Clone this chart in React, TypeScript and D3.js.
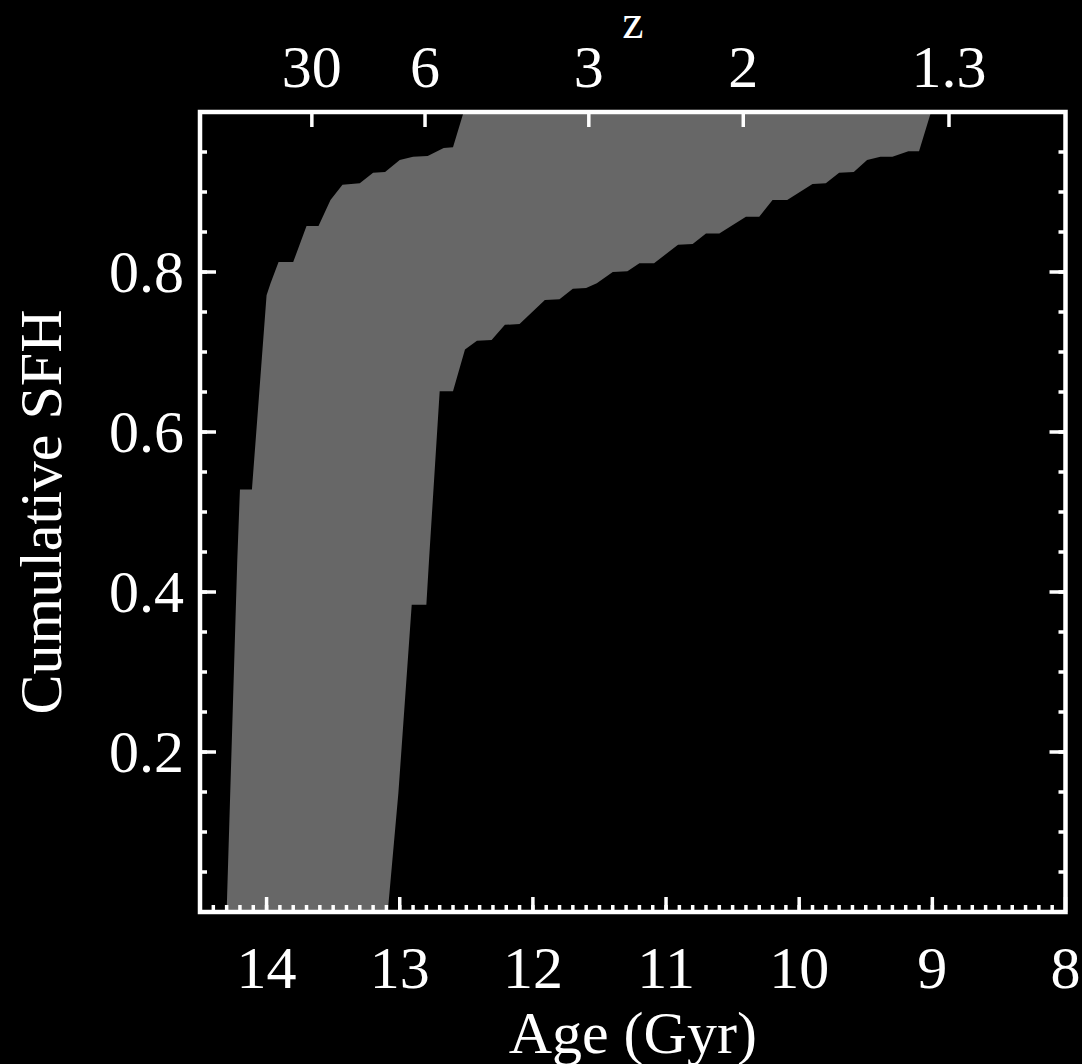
import React from 'react';
import * as d3 from 'd3';

// older edge of the band (age in Gyr, cumulative SFH), from bottom to top
const upperEdge: [number, number][] = [
  [14.3, 0], [14.22, 0.44], [14.2, 0.528], [14.11, 0.528], [14.0, 0.771],
  [13.97, 0.786], [13.91, 0.8125], [13.8, 0.8125], [13.7, 0.8575], [13.61, 0.8575],
  [13.52, 0.89], [13.43, 0.909], [13.3, 0.911], [13.2, 0.924], [13.11, 0.925],
  [13.0, 0.94], [12.9, 0.944], [12.79, 0.945], [12.67, 0.955], [12.6, 0.956],
  [12.52, 1.0],
];

// younger edge of the band, from bottom to top
const lowerEdge: [number, number][] = [
  [13.09, 0], [13.01, 0.149], [12.91, 0.384], [12.8, 0.384], [12.78, 0.44],
  [12.7, 0.651], [12.6, 0.651], [12.51, 0.703], [12.42, 0.714], [12.31, 0.715],
  [12.21, 0.734], [12.1, 0.735], [11.91, 0.765], [11.8, 0.766], [11.7, 0.779],
  [11.6, 0.78], [11.52, 0.786], [11.4, 0.8], [11.29, 0.801], [11.2, 0.811],
  [11.09, 0.811], [10.91, 0.834], [10.8, 0.835], [10.7, 0.848], [10.6, 0.848],
  [10.4, 0.869], [10.3, 0.869], [10.2, 0.89], [10.09, 0.89], [9.9, 0.91],
  [9.8, 0.911], [9.7, 0.924], [9.59, 0.925], [9.49, 0.94], [9.39, 0.944],
  [9.3, 0.944], [9.18, 0.951], [9.1, 0.951], [9.01, 1.0],
];

const ageTicks = [14, 13, 12, 11, 10, 9, 8];
const sfhTicks = [0.2, 0.4, 0.6, 0.8];
const zLabels = ['30', '6', '3', '2', '1.3'];
const zAges = [13.66, 12.81, 11.58, 10.42, 8.875];

const W = 1082;
const H = 1064;
const FONT = '"Liberation Serif", "Times New Roman", serif';

const App = () => {
  const x = d3.scaleLinear().domain([14.5, 8]).range([200, 1065.5]);
  const y = d3.scaleLinear().domain([0, 1]).range([912, 112]);

  const line = d3.line<[number, number]>()
    .x(d => x(d[0]))
    .y(d => y(d[1]));
  const band = line([...upperEdge, ...lowerEdge.slice().reverse()]) + 'Z';

  // minor ticks every 0.1 Gyr and every 0.05 in SFH
  const ageMinor = d3.range(81, 145).map(v => v / 10);
  const sfhMinor = d3.range(1, 20).map(v => v / 20);

  const x0 = x(14.5), x1 = x(8), y0 = y(0), y1 = y(1);

  return (
    <>
      <style>{`body{margin:0;background:#000;}`}</style>
      <svg width={W} height={H} style={{ display: 'block', background: '#000' }}>
        <path d={band} fill="#676767" />

        <g stroke="#fff" strokeWidth={3.5}>
          {/* bottom axis */}
          {ageMinor.map(v => (
            <line key={'am' + v} x1={x(v)} x2={x(v)} y1={y0} y2={y0 - 7} />
          ))}
          {ageTicks.map(v => (
            <line key={'aM' + v} x1={x(v)} x2={x(v)} y1={y0} y2={y0 - 15} />
          ))}
          {/* left and right axes */}
          {sfhMinor.map(v => (
            <g key={'sm' + v}>
              <line x1={x0} x2={x0 + 7} y1={y(v)} y2={y(v)} />
              <line x1={x1} x2={x1 - 7} y1={y(v)} y2={y(v)} />
            </g>
          ))}
          {sfhTicks.map(v => (
            <g key={'sM' + v}>
              <line x1={x0} x2={x0 + 16} y1={y(v)} y2={y(v)} />
              <line x1={x1} x2={x1 - 16} y1={y(v)} y2={y(v)} />
            </g>
          ))}
          {/* top redshift axis */}
          {zAges.map(v => (
            <line key={'z' + v} x1={x(v)} x2={x(v)} y1={y1} y2={y1 + 15} />
          ))}
          <rect x={x0} y={y1} width={x1 - x0} height={y0 - y1} fill="none" strokeWidth={4.5} />
        </g>

        <g fill="#fff" fontFamily={FONT} fontSize={60}>
          {ageTicks.map(v => (
            <text key={'at' + v} x={x(v)} y={988} textAnchor="middle">{v}</text>
          ))}
          {sfhTicks.map(v => (
            <text key={'st' + v} x={184} y={y(v) + 20} textAnchor="end">{v.toFixed(1)}</text>
          ))}
          {zLabels.map((l, i) => (
            <text key={'zt' + l} x={x(zAges[i])} y={87} textAnchor="middle">{l}</text>
          ))}
          <text x={(x0 + x1) / 2} y={1053} textAnchor="middle">Age (Gyr)</text>
          <text
            transform={`translate(61,${(y0 + y1) / 2}) rotate(-90)`}
            textAnchor="middle"
          >
            Cumulative SFH
          </text>
          <text x={633} y={38} textAnchor="middle" fontSize={48}>z</text>
        </g>
      </svg>
    </>
  );
};

export default App;
